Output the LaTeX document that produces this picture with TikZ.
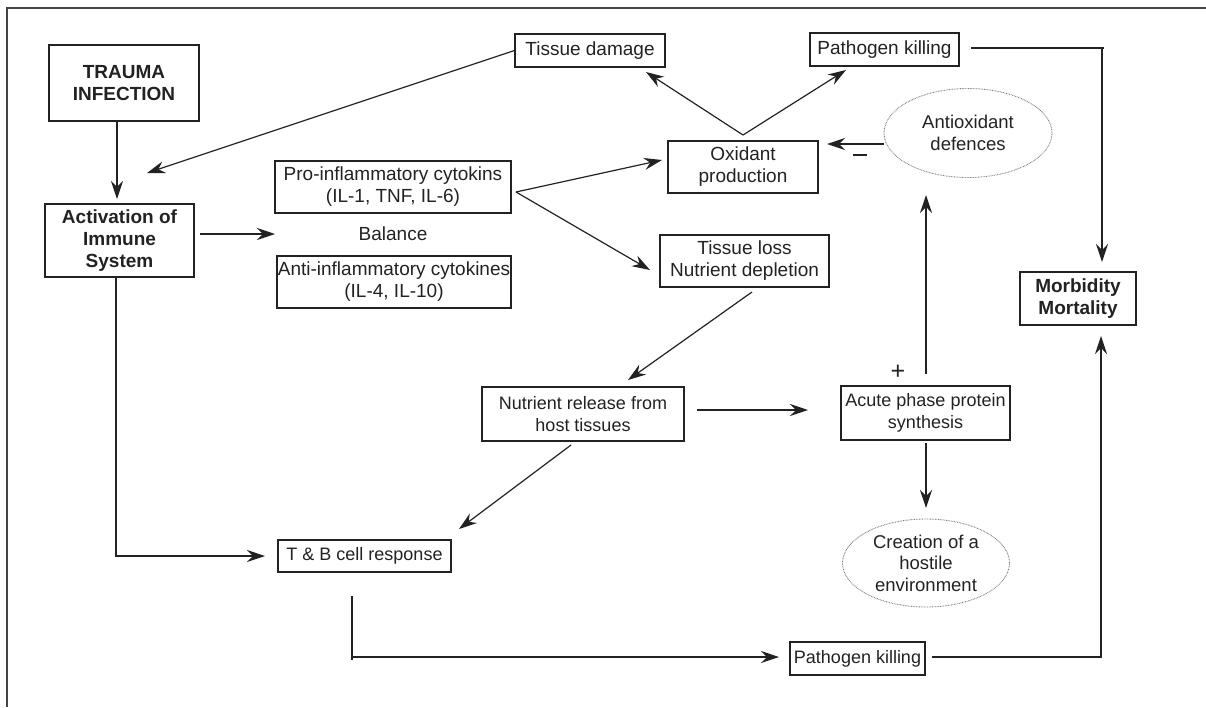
\documentclass[tikz,border=0pt]{standalone}
\usepackage{fontspec}
\setmainfont{Liberation Sans}
\usetikzlibrary{arrows.meta,shapes.geometric,calc}
\definecolor{ink}{HTML}{222222}
\definecolor{frame}{HTML}{444444}
\begin{document}
\begin{tikzpicture}[x=1pt,y=-1pt,
  box/.style={draw=ink, line width=1.1pt, inner sep=0pt, align=center, text=ink,
    font=\fontsize{19pt}{22pt}\selectfont},
  sbox/.style={box, font=\fontsize{18pt}{21.5pt}\selectfont},
  bbox/.style={box, font=\fontsize{19pt}{22pt}\selectfont\bfseries},
  oval/.style={ellipse, draw=gray, dash pattern=on 0.8pt off 0.8pt, line width=0.9pt,
    inner sep=0pt, align=center, text=ink, font=\fontsize{18.5pt}{21.5pt}\selectfont},
  plain/.style={inner sep=0pt, text=ink, font=\fontsize{19pt}{22pt}\selectfont},
  ln/.style={draw=ink, line width=1.2pt},
  arr/.style={ln, -{Stealth[length=18pt,width=12pt,inset=6pt]}}]
\useasboundingbox (0,0) rectangle (1206,707);
% frame
\draw[frame, line width=1.5pt] (1206,8) -- (7,8) -- (7,707);
% nodes
\node[bbox, minimum width=150pt, minimum height=76pt] (trauma) at (124,83) {TRAUMA\\INFECTION};
\node[bbox, minimum width=149pt, minimum height=73pt] (activ) at (119.5,240.5) {Activation of\\Immune\\System};
\node[box, minimum width=236pt, minimum height=52pt] (pro) at (393,187) {Pro-inflammatory cytokins\\(IL-1, TNF, IL-6)};
\node[plain] (bal) at (393,234) {Balance};
\node[box, minimum width=234pt, minimum height=52pt] (anti) at (394,282) {Anti-inflammatory cytokines\\(IL-4, IL-10)};
\node[box, minimum width=150pt, minimum height=33pt] (tdam) at (590,50.5) {Tissue damage};
\node[box, minimum width=149pt, minimum height=33pt] (pk1) at (884.5,49.5) {Pathogen killing};
\node[box, minimum width=150pt, minimum height=52pt] (oxid) at (743,167) {Oxidant\\production};
\node[oval, minimum width=168pt, minimum height=89pt] (antiox) at (968,133) {Antioxidant\\defences};
\node[box, minimum width=169pt, minimum height=52pt] (tloss) at (744.5,261) {Tissue loss\\Nutrient depletion};
\node[bbox, minimum width=116pt, minimum height=53pt] (morb) at (1078,298.5) {Morbidity\\Mortality};
\node[sbox, minimum width=202pt, minimum height=54pt] (nutr) at (583,414) {Nutrient release from\\host tissues};
\node[sbox, minimum width=169pt, minimum height=54pt] (acute) at (925.5,413) {Acute phase protein\\synthesis};
\node[oval, minimum width=167pt, minimum height=88pt] (host) at (926,563) {Creation of a\\hostile\\environment};
\node[sbox, minimum width=173pt, minimum height=32pt] (tb) at (364.5,556) {T \& B cell response};
\node[sbox, minimum width=135pt, minimum height=33pt] (pk2) at (857.5,658.5) {Pathogen killing};
\node[plain] (minus) at (860,155) {\rule{14pt}{1.6pt}};
\node[plain, font=\fontsize{25pt}{25pt}\selectfont] (plus) at (898,372) {+};
% free ends
\coordinate (c1) at (147,173);
\coordinate (c2) at (200,234);
\coordinate (c3) at (275,234);
\coordinate (p0) at (516,192);
\coordinate (c4) at (662,160);
\coordinate (c5) at (650,270);
\coordinate (ox0) at (743,135);
\coordinate (c6) at (646,72);
\coordinate (c7) at (846,70);
\coordinate (c8) at (884,144);
\coordinate (c9) at (827,144);
\coordinate (k1) at (971,48);
\coordinate (k2) at (1102,48);
\coordinate (k3) at (1102,262);
\coordinate (t1) at (752,292);
\coordinate (t2) at (628,380);
\coordinate (n1) at (571,445);
\coordinate (n2) at (459,529);
\coordinate (n3) at (697,410);
\coordinate (n4) at (808,410);
\coordinate (a1) at (926,374);
\coordinate (a2) at (926,195);
\coordinate (a3) at (926,443);
\coordinate (a4) at (926,508);
\coordinate (v0) at (117,199);
\coordinate (v1) at (116,277);
\coordinate (v2) at (116,556);
\coordinate (v3) at (265,556);
\coordinate (b1) at (352,596);
\coordinate (b2) at (352,657);
\coordinate (b3) at (779,657);
\coordinate (q1) at (932,657);
\coordinate (q2) at (1101,657);
\coordinate (q3) at (1101,336);
% connectors
\draw[arr] (trauma.south -| v0) -- (v0);
\draw[arr] (tdam.west) -- (c1);
\draw[arr] (c2) -- (c3);
\draw[arr] (p0) -- (c4);
\draw[arr] (p0) -- (c5);
\draw[arr] (ox0) -- (c6);
\draw[arr] (ox0) -- (c7);
\draw[arr] (c8) -- (c9);
\draw[arr] (k1) -- (k2) -- (k3);
\draw[ln] (k2) -- ++(2,0);
\draw[arr] (t1) -- (t2);
\draw[arr] (n1) -- (n2);
\draw[arr] (n3) -- (n4);
\draw[arr] (a1) -- (a2);
\draw[arr] (a3) -- (a4);
\draw[arr] (v1) -- (v2) -- (v3);
\draw[arr] (b1) -- (b2) -- (b3);
\draw[ln] (b2) -- ++(0,3);
\draw[arr] (q1) -- (q2) -- (q3);
\end{tikzpicture}
\end{document}
